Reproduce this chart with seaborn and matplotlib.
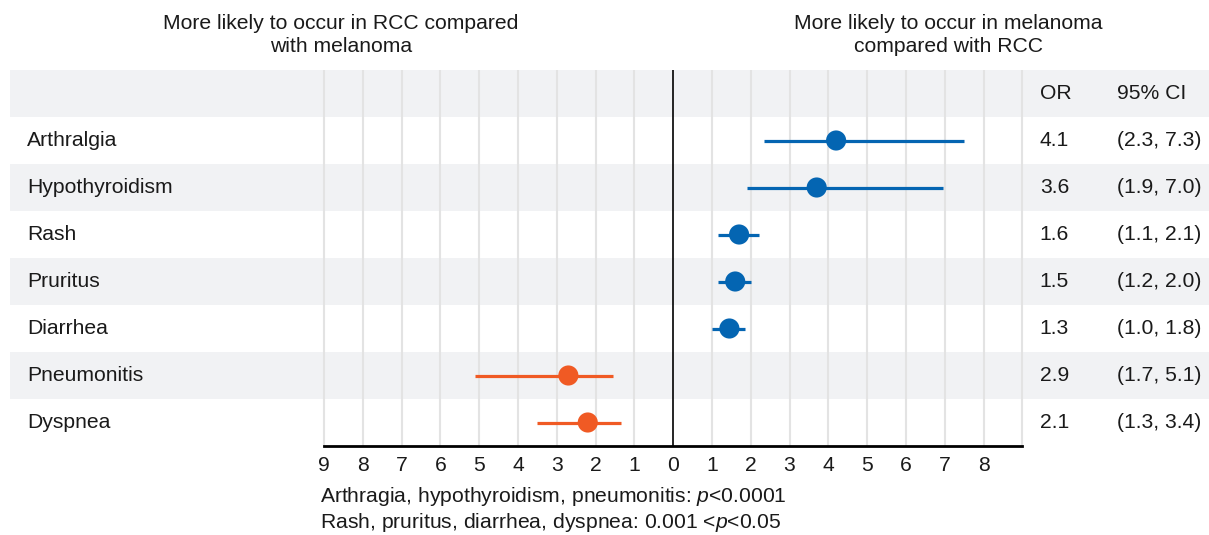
import numpy as np
import pandas as pd
import matplotlib.pyplot as plt
import seaborn as sns

events = ['Arthralgia', 'Hypothyroidism', 'Rash', 'Pruritus', 'Diarrhea', 'Pneumonitis', 'Dyspnea']
# plotted positions (negative = more likely in RCC)
est = [4.2, 3.7, 1.7, 1.6, 1.45, -2.7, -2.2]
lo = [2.35, 1.9, 1.15, 1.15, 1.0, -5.1, -3.5]
hi = [7.5, 6.95, 2.2, 2.0, 1.85, -1.55, -1.35]
side = ['melanoma'] * 5 + ['RCC'] * 2
or_txt = ['4.1', '3.6', '1.6', '1.5', '1.3', '2.9', '2.1']
ci_txt = ['(2.3, 7.3)', '(1.9, 7.0)', '(1.1, 2.1)', '(1.2, 2.0)', '(1.0, 1.8)', '(1.7, 5.1)', '(1.3, 3.4)']
ticks = list(range(-9, 9))
tick_labels = [str(abs(t)) for t in ticks]

df = pd.DataFrame({'event': events, 'est': est, 'lo': lo, 'hi': hi, 'side': side,
                   'row': np.arange(len(events))})
pal = {'melanoma': '#0465B2', 'RCC': '#F05A24'}

sns.set_style('white')
plt.rcParams['font.family'] = ['Liberation Sans', 'DejaVu Sans']
plt.rcParams['mathtext.fontset'] = 'custom'
plt.rcParams['mathtext.it'] = 'Liberation Sans:italic'
plt.rcParams['mathtext.rm'] = 'Liberation Sans'
plt.rcParams['text.color'] = '#1a1a1a'

fig = plt.figure(figsize=(12.09, 5.35), dpi=100)
ax = fig.add_axes([10 / 1209, 1 - 446 / 535, 1 - 10 / 1209, 376 / 535])
ax.set_xlim(-17.09, 13.81)
ax.set_ylim(6.5, -1.5)

for y0 in [-1, 1, 3, 5]:
    ax.axhspan(y0 - 0.5, y0 + 0.5, color='#F1F2F4', lw=0, zorder=0)
for t in range(-9, 10):
    if t != 0:
        ax.plot([t, t], [-1.5, 6.5], color='#E3E3E3', lw=1.5, zorder=1)
ax.plot([0, 0], [-1.5, 6.5], color='black', lw=1.2, zorder=2)

for _, r in df.iterrows():
    ax.plot([r.lo, r.hi], [r.row, r.row], color=pal[r.side], lw=2.3, zorder=3, solid_capstyle='butt')
sns.scatterplot(data=df, x='est', y='row', hue='side', palette=pal, s=210, edgecolor='none',
                legend=False, ax=ax, zorder=4)

fs = 15.2
for i, ev in enumerate(events):
    ax.text(-16.65, i, ev, va='center', ha='left', fontsize=fs)
    ax.text(9.45, i, or_txt[i], va='center', ha='left', fontsize=fs)
    ax.text(11.45, i, ci_txt[i], va='center', ha='left', fontsize=fs)
ax.text(9.45, -1, 'OR', va='center', ha='left', fontsize=fs)
ax.text(11.45, -1, '95% CI', va='center', ha='left', fontsize=fs)

for s in ['top', 'left', 'right']:
    ax.spines[s].set_visible(False)
ax.spines['bottom'].set_bounds(-9, 9)
ax.spines['bottom'].set_linewidth(2)
ax.spines['bottom'].set_color('black')
ax.set_xticks(ticks)
ax.set_xticklabels(tick_labels, fontsize=fs, color='#1a1a1a')
ax.tick_params(axis='x', length=0, pad=7)
ax.set_yticks([])
ax.set_xlabel('')
ax.set_ylabel('')

fig.text(341 / 1209, 1 - 35 / 535, 'More likely to occur in RCC compared\nwith melanoma',
         ha='center', va='center', fontsize=fs, linespacing=1.3)
fig.text(948 / 1209, 1 - 35 / 535, 'More likely to occur in melanoma\ncompared with RCC',
         ha='center', va='center', fontsize=fs, linespacing=1.3)
fig.text(320 / 1209, 1 - 497 / 535, r'Arthragia, hypothyroidism, pneumonitis: $p$<0.0001',
         ha='left', va='center', fontsize=fs)
fig.text(320 / 1209, 1 - 522 / 535, r'Rash, pruritus, diarrhea, dyspnea: 0.001 <$p$<0.05',
         ha='left', va='center', fontsize=fs)

fig.savefig('out.png', dpi=100)
